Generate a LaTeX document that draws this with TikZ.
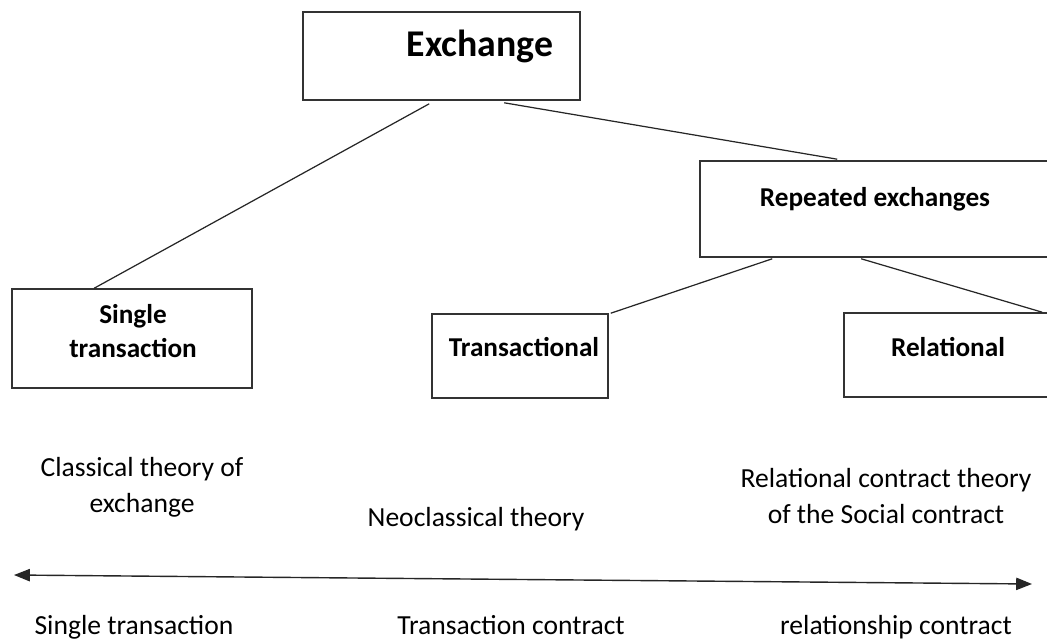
\documentclass[tikz,border=0pt]{standalone}
\usepackage{fontspec}
\setmainfont{Carlito}
\usetikzlibrary{calc,arrows.meta}
\begin{document}
\begin{tikzpicture}[x=0.02cm,y=-0.02cm,
  box/.style={draw=black!80,line width=0.9pt,inner sep=0pt},
  lbl/.style={font=\bfseries\fontsize{15.5}{19.5}\selectfont,align=center},
  big/.style={font=\bfseries\fontsize{21.5}{25}\selectfont},
  txt/.style={font=\fontsize{15.7}{20.5}\selectfont,align=center},
  conn/.style={draw=black!85,line width=0.7pt}]
\useasboundingbox (0,0) rectangle (1047,642);
% boxes
\node[box,minimum width=277*0.02cm,minimum height=88*0.02cm] (ex) at (441.5,56) {};
\node[big] (extxt) at (480,46) {Exchange};
\node[box,minimum width=240*0.02cm,minimum height=99*0.02cm] (st) at (132,338.5) {};
\node[lbl] (sttxt) at (133,331) {Single\\transaction};
\node[box,minimum width=350*0.02cm,minimum height=96*0.02cm] (re) at (875,209) {};
\node[lbl] (retxt) at (875,199) {Repeated exchanges};
\node[box,minimum width=176*0.02cm,minimum height=84*0.02cm] (tr) at (520,356) {};
\node[lbl] (trtxt) at (524,347) {Transactional};
\node[box,minimum width=208*0.02cm,minimum height=84*0.02cm] (rl) at (948,355) {};
\node[lbl] (rltxt) at (948,347) {Relational};
% connectors
\draw[conn] ($(ex.south west)+(127,3)$) -- ($(st.north west)+(83,0)$);
\draw[conn] ($(ex.south west)+(202,2)$) -- ($(re.north west)+(138,-1)$);
\draw[conn] ($(re.south west)+(73,1)$) -- ($(tr.north east)+(2,0)$);
\draw[conn] ($(re.south west)+(162,1)$) -- ($(rl.north west)+(199,0)$);
% texts
\node[txt] (c1) at (142,487) {Classical theory of\\exchange};
\node[txt] (c2) at (476,519) {Neoclassical theory};
\node[txt] (c3) at (886,496) {Relational contract theory\\of the Social contract};
\coordinate (aL) at (14,575);
\coordinate (aR) at (1032,584);
\draw[conn,line width=0.8pt,{Triangle[length=9pt,width=7pt]}-{Triangle[length=9pt,width=7pt]}] (aL) -- (aR);
\node[txt,anchor=base] (b1) at (134,634) {Single transaction};
\node[txt,anchor=base] (b2) at (511,634) {Transaction contract};
\node[txt,anchor=base] (b3) at (896,634) {relationship contract};
\end{tikzpicture}
\end{document}
